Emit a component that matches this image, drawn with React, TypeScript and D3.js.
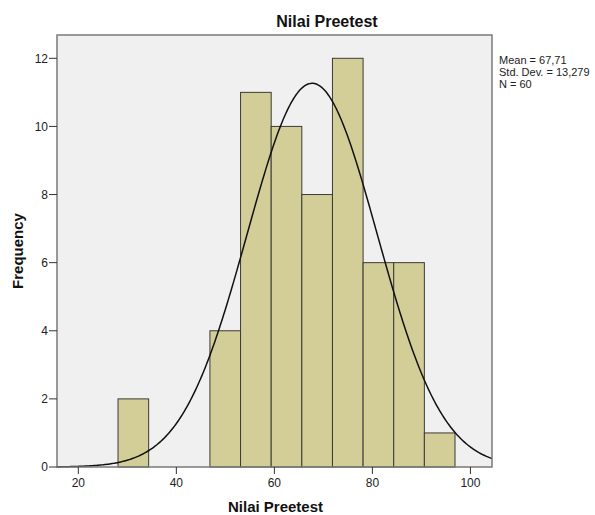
import { useMemo } from "react";
import { scaleLinear, line, range } from "d3";

const WIDTH = 595;
const HEIGHT = 515;
const PLOT = { left: 57, right: 492, top: 35, bottom: 467 };

// histogram bins
const binStarts = [28.1, 34.35, 40.6, 46.85, 53.1, 59.35, 65.6, 71.85, 78.1, 84.35, 90.6];
const binWidth = 6.25;
const counts = [2, 0, 0, 4, 11, 10, 8, 12, 6, 6, 1];

const xTicks = [20, 40, 60, 80, 100];
const yTicks = [0, 2, 4, 6, 8, 10, 12];

const MEAN = 67.71;
const SD = 13.279;
const N = 60;
const statLines = ["Mean = 67,71", "Std. Dev. = 13,279", "N = 60"];

const FONT = "Arial, 'Liberation Sans', sans-serif";

export default function App() {
  const x = useMemo(() => scaleLinear().domain([15.65, 104.4]).range([PLOT.left, PLOT.right]), []);
  const y = useMemo(() => scaleLinear().domain([0, 12]).range([PLOT.bottom, 58.3]), []);

  const curve = useMemo(() => {
    const pts = range(15.65, 104.4, 0.25).concat([104.4]);
    const dens = (v: number) =>
      (N * binWidth) / (SD * Math.sqrt(2 * Math.PI)) * Math.exp(-((v - MEAN) ** 2) / (2 * SD * SD));
    return line<number>().x((v) => x(v)).y((v) => y(dens(v)))(pts);
  }, [x, y]);

  return (
    <svg width={WIDTH} height={HEIGHT} style={{ display: "block", position: "absolute", left: 0, top: 0 }} fontFamily={FONT}>
      <rect width={WIDTH} height={HEIGHT} fill="#fff" />
      <rect x={PLOT.left} y={PLOT.top} width={PLOT.right - PLOT.left} height={PLOT.bottom - PLOT.top} fill="#f0f0f0" />
      {binStarts.map((s, i) =>
        counts[i] > 0 ? (
          <rect
            key={i}
            x={x(s)}
            y={y(counts[i])}
            width={x(s + binWidth) - x(s)}
            height={y(0) - y(counts[i])}
            fill="#d3ce97"
            stroke="#3a3a3a"
            strokeWidth={1}
          />
        ) : null
      )}
      {curve ? <path d={curve} fill="none" stroke="#111" strokeWidth={1.5} /> : null}
      <rect x={PLOT.left} y={PLOT.top} width={PLOT.right - PLOT.left} height={PLOT.bottom - PLOT.top} fill="none" stroke="#7a7a7a" strokeWidth={1.5} />
      {yTicks.map((t) => (
        <g key={t}>
          <line x1={PLOT.left - 8} x2={PLOT.left} y1={y(t)} y2={y(t)} stroke="#333" strokeWidth={1} />
          <text x={PLOT.left - 9} y={y(t)} dy="0.35em" textAnchor="end" fontSize={12} fill="#222">{t}</text>
        </g>
      ))}
      {xTicks.map((t) => (
        <g key={t}>
          <line x1={x(t)} x2={x(t)} y1={PLOT.bottom} y2={PLOT.bottom + 7} stroke="#333" strokeWidth={1} />
          <text x={x(t)} y={PLOT.bottom + 20} textAnchor="middle" fontSize={12} fill="#222">{t}</text>
        </g>
      ))}
      <text x={327} y={27} textAnchor="middle" fontSize={16} fontWeight="bold" fill="#111">Nilai Preetest</text>
      <text x={275.5} y={512} textAnchor="middle" fontSize={15} fontWeight="bold" fill="#111">Nilai Preetest</text>
      <text transform="translate(23,251) rotate(-90)" textAnchor="middle" fontSize={15} fontWeight="bold" fill="#111">Frequency</text>
      {statLines.map((s, i) => (
        <text key={s} x={499} y={64 + i * 12} fontSize={11} fill="#222">{s}</text>
      ))}
    </svg>
  );
}
